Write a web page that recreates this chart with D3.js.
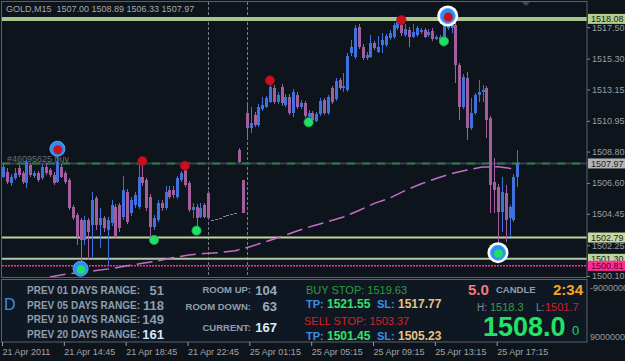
<!DOCTYPE html>
<html><head><meta charset="utf-8">
<script src="https://cdn.jsdelivr.net/npm/d3@7/dist/d3.min.js"></script>
<style>html,body{margin:0;padding:0;background:#0d141c;overflow:hidden}svg{display:block;font-family:"Liberation Sans",Arial,sans-serif}</style>
</head><body><svg id="c" width="625" height="361"></svg>
<script>
// ---------- DATA ----------
const chartTitle = "GOLD,M15";
const titleValues = ["1507.00", "1508.89", "1506.33", "1507.97"];
const open = [1507.04,1507.39,1506.58,1506.93,1507.63,1507.28,1506.58,1507.86,1507.09,1507.28,1506.93,1507.74,1507.51,1507.16,1506.69,1507.74,1507.28,1506.81,1504.95,1504.37,1504.02,1502.62,1504.02,1503.67,1505.53,1503.67,1504.13,1503.32,1503.79,1504.95,1505.06,1504.25,1505.99,1504.48,1505.06,1504.95,1507.04,1506.81,1505.64,1503.55,1504.02,1505.18,1504.83,1506.11,1506.11,1505.64,1506.81,1507.51,1506.58,1504.71,1504.95,1504.25,1505.06,1505.88,1504.02,1504.11,1504.19,1504.27,1504.37,1504.45,1504.54,1508.91,1506.81,1511.48,1510.43,1511.36,1510.66,1511.76,1511.94,1512.29,1513.23,1512.29,1513.34,1512.06,1512.64,1511.48,1512.76,1511.94,1512.18,1511.24,1511.48,1510.96,1511.43,1512.41,1511.48,1513.23,1512.46,1513.81,1513.23,1513.11,1515.67,1515.44,1517.53,1516.13,1515.32,1515.44,1516.37,1515.78,1516.25,1516.25,1516.72,1516.83,1517.42,1517.88,1516.95,1517.30,1516.83,1516.95,1517.18,1517.30,1516.95,1517.25,1516.65,1516.60,1516.72,1517.42,1517.42,1517.65,1514.85,1511.94,1513.92,1510.43,1511.48,1512.76,1512.99,1513.23,1511.13,1506.69,1506.34,1504.60,1505.88,1504.13,1504.02,1507.00];
const high = [1508.00,1507.65,1507.23,1507.65,1507.86,1507.44,1508.21,1508.00,1507.44,1507.44,1507.93,1508.00,1507.65,1507.37,1508.91,1507.93,1507.44,1506.95,1505.06,1504.50,1504.16,1504.30,1504.16,1505.97,1505.69,1504.85,1504.30,1504.23,1505.41,1505.13,1505.20,1507.09,1506.18,1505.62,1505.97,1508.07,1508.14,1506.95,1505.83,1504.37,1505.41,1505.41,1506.39,1506.39,1506.39,1507.09,1507.44,1507.79,1506.74,1505.20,1505.13,1505.20,1505.20,1506.04,1504.02,1504.11,1504.19,1504.27,1504.37,1504.45,1504.54,1509.05,1506.81,1512.06,1511.92,1511.57,1512.13,1512.62,1512.69,1513.81,1513.46,1512.97,1513.53,1512.83,1512.83,1513.18,1512.97,1512.41,1512.34,1511.71,1511.64,1511.57,1512.55,1512.55,1512.76,1513.39,1513.95,1513.95,1514.30,1515.69,1516.60,1517.65,1517.72,1516.32,1515.76,1516.95,1516.53,1516.88,1517.09,1517.02,1517.30,1517.79,1518.23,1518.00,1517.72,1517.51,1517.72,1517.58,1517.44,1517.44,1517.37,1517.44,1516.95,1516.95,1517.88,1518.28,1517.79,1517.79,1514.99,1514.23,1514.39,1512.55,1512.90,1513.81,1513.46,1513.39,1511.29,1508.35,1506.53,1507.04,1506.46,1505.06,1507.23,1508.89];
const low = [1506.95,1506.53,1506.39,1506.81,1507.02,1506.53,1506.25,1507.02,1506.95,1506.67,1506.81,1507.16,1507.02,1506.46,1506.60,1506.95,1506.53,1504.71,1504.02,1502.27,1501.01,1502.27,1501.22,1501.43,1503.32,1502.06,1503.18,1500.87,1503.60,1502.69,1503.18,1504.02,1503.74,1504.30,1504.85,1504.78,1506.39,1504.64,1502.76,1503.32,1503.88,1504.64,1504.71,1505.48,1505.55,1505.48,1506.67,1506.32,1504.58,1504.16,1503.46,1504.16,1504.16,1504.02,1504.02,1504.11,1504.19,1504.27,1504.37,1504.45,1504.54,1508.00,1504.48,1509.82,1510.10,1510.52,1510.52,1511.64,1511.85,1512.20,1512.13,1512.13,1511.99,1511.92,1511.36,1511.22,1511.78,1511.78,1511.15,1510.89,1510.87,1510.87,1511.29,1511.36,1511.36,1512.13,1512.34,1513.11,1512.97,1512.97,1515.48,1515.27,1515.97,1515.20,1515.20,1515.34,1515.90,1515.69,1515.69,1516.11,1516.60,1516.67,1517.30,1516.88,1516.81,1516.13,1516.74,1516.81,1517.02,1516.74,1516.81,1516.53,1516.60,1516.53,1516.60,1517.30,1517.09,1513.60,1511.01,1511.78,1509.61,1510.31,1511.36,1512.29,1512.29,1509.75,1504.50,1504.50,1501.71,1503.20,1502.50,1502.85,1503.88,1506.33];
const close = [1507.74,1506.69,1507.04,1507.28,1507.16,1506.69,1508.09,1507.16,1507.32,1506.81,1507.74,1507.28,1507.16,1506.58,1508.09,1507.04,1506.69,1504.83,1504.13,1502.85,1502.62,1504.02,1503.20,1505.41,1503.67,1504.13,1503.44,1504.02,1505.06,1502.85,1503.44,1506.11,1503.90,1505.41,1505.76,1507.04,1506.58,1504.83,1503.55,1504.13,1505.18,1504.83,1505.99,1505.64,1505.76,1506.93,1507.28,1506.46,1504.71,1504.95,1504.13,1504.83,1504.25,1504.13,1504.02,1504.11,1504.19,1504.27,1504.37,1504.45,1504.54,1508.07,1504.48,1510.43,1510.78,1510.66,1511.94,1512.06,1512.53,1513.34,1512.29,1512.76,1512.18,1512.64,1511.48,1512.99,1511.94,1512.18,1511.29,1511.48,1511.01,1511.43,1512.36,1511.48,1512.60,1512.29,1513.76,1513.23,1513.39,1515.48,1516.13,1517.42,1516.13,1515.32,1515.55,1516.37,1516.02,1516.13,1516.60,1516.88,1517.07,1517.65,1517.88,1517.07,1517.35,1516.83,1517.18,1517.42,1517.30,1516.83,1517.18,1516.65,1516.79,1516.83,1517.65,1517.77,1517.65,1514.85,1511.94,1514.04,1510.43,1511.48,1512.76,1512.99,1513.11,1511.01,1506.46,1506.11,1504.60,1505.99,1504.02,1504.95,1507.04,1507.97];

const maBars   = [12,16,20,24,28,32,36,40,44,48,52,56,60,64,68,72,76,80,84,88,92,96,100,104,108,112,116,120,124,128,131,133];
const maValues = [1500.03,1500.22,1500.34,1500.48,1500.62,1500.81,1500.99,1501.15,1501.39,1501.57,1501.68,1501.74,1501.87,1502.16,1502.51,1502.86,1503.25,1503.60,1503.90,1504.23,1504.68,1505.18,1505.55,1506.08,1506.53,1506.92,1507.27,1507.51,1507.72,1507.74,1507.63,1507.51];

const priceTicks = [1517.50,1515.30,1513.15,1510.95,1508.80,1506.60,1504.45,1502.25,1500.10];
const levelPrices = [1518.08, 1507.97, 1502.79, 1501.30, 1500.81];
const orderLabel = "#46095625 buy";
const orderPrice = 1507.97;
const separatorBars = [53, 63];

const timeTickBars = [0,16,32,48,64,80,96,112,128];
const timeLabels = ["21 Apr 2011","21 Apr 14:45","21 Apr 18:45","21 Apr 22:45","25 Apr 01:15","25 Apr 05:15","25 Apr 09:15","25 Apr 13:15","25 Apr 17:15"];

const redDotBars = [36, 47, 69, 103];
const redDotPrices = [1508.14, 1507.81, 1513.78, 1518.00];
const greenDotBars = [39, 50, 79, 114];
const greenDotPrices = [1502.62, 1503.27, 1510.85, 1516.51];
const ringBars = [14, 20, 115, 128];
const ringPrices = [1509.00, 1500.61, 1518.28, 1501.73];
const ringKinds = ["high", "low", "high", "low"];
const ringWhite = [false, false, true, true];

const subAxisLabels = ["-9000000", "9000000"];

const rangeLabels = ["PREV 01 DAYS RANGE:","PREV 05 DAYS RANGE:","PREV 10 DAYS RANGE:","PREV 20 DAYS RANGE:"];
const rangeValues = [51, 118, 149, 161];
const roomLabels = ["ROOM UP:","ROOM DOWN:","CURRENT:"];
const roomValues = [104, 63, 167];
const buyStop = "1519.63", buyTP = "1521.55", buySL = "1517.77";
const sellStop = "1503.37", sellTP = "1501.45", sellSL = "1505.23";
const spreadText = "5.0", candleLabel = "CANDLE", candleTimer = "2:34";
const dayHigh = "1518.3", dayLow = "1501.7";
const bigPrice = "1508.0", bigSuffix = "0";
const periodLetter = "D";

// ---------- DRAW ----------
const svg = d3.select("#c");
const BG = "#0d141c";
svg.append("rect").attr("width",625).attr("height",361).attr("fill",BG);

const x = d3.scaleLinear().domain([0, 133]).range([3.3, 517.3]);
const y = d3.scaleLinear().domain([1500.10, 1517.50]).range([276, 27.2]);

const defs = svg.append("defs");
defs.append("clipPath").attr("id","clipMain").append("rect").attr("x",2).attr("y",2).attr("width",585).attr("height",275);

const main = svg.append("g").attr("clip-path","url(#clipMain)");

// vertical period separators
main.selectAll(".sep").data(separatorBars).join("line")
  .attr("x1", d=>Math.round(x(d))+0.5).attr("x2", d=>Math.round(x(d))+0.5)
  .attr("y1", 2).attr("y2", 277)
  .attr("stroke","#7c7c86").attr("stroke-width",1).attr("stroke-dasharray","3,2");

// horizontal levels
const levelStyles = [
  {c:"#a9c58a", w:4, dash:null},
  {c:"#33414e", w:2, dash:null},
  {c:"#c4d29c", w:2, dash:null},
  {c:"#b4c6a6", w:2, dash:null},
  {c:"#ff2a8c", w:1.5, dash:"2,1"}
];
main.selectAll(".lvl").data(levelPrices).join("line")
  .attr("x1",2).attr("x2",587)
  .attr("y1", d=>y(d)).attr("y2", d=>y(d))
  .attr("stroke",(d,i)=>levelStyles[i].c)
  .attr("stroke-width",(d,i)=>levelStyles[i].w)
  .attr("stroke-dasharray",(d,i)=>levelStyles[i].dash);
main.append("line").attr("x1",2).attr("x2",587).attr("y1",y(orderPrice)).attr("y2",y(orderPrice))
  .attr("stroke","#2d7a45").attr("stroke-width",2).attr("stroke-dasharray","8,7");

// order label
main.append("text").attr("x",7).attr("y",y(orderPrice)-1.5).text(orderLabel)
  .attr("font-size",9).attr("fill","#68707a");

// moving average
const maData = maBars.map((b,i)=>({b, v:maValues[i]}));
main.append("path").datum(maData)
  .attr("d", d3.line().x(d=>x(d.b)).y(d=>y(d.v)))
  .attr("fill","none").attr("stroke","#c46cc8").attr("stroke-width",1.5)
  .attr("stroke-dasharray","16,6");

// candles
const bars = d3.range(open.length);
const BULL = "#3f72dc", BEAR = "#a45e9e", DOJI = "#8a80a8";
const col = i => close[i] > open[i] ? BULL : (close[i] < open[i] ? BEAR : DOJI);
main.selectAll(".wick").data(bars).join("rect")
  .attr("x", i=>Math.round(x(i)))
  .attr("width",1)
  .attr("y", i=>Math.round(y(high[i])))
  .attr("height", i=>Math.max(1, Math.round(y(low[i]))-Math.round(y(high[i]))))
  .attr("fill", col);
main.selectAll(".body").data(bars).join("rect")
  .attr("x", i=>Math.round(x(i))-1)
  .attr("width",3)
  .attr("y", i=>Math.round(y(Math.max(open[i],close[i]))))
  .attr("height", i=>Math.max(1, Math.round(y(Math.min(open[i],close[i])))-Math.round(y(Math.max(open[i],close[i])))))
  .attr("fill", col);

// rings
ringBars.forEach((b,i)=>{
  const cx = x(b), cy = y(ringPrices[i]);
  if (ringWhite[i]) main.append("circle").attr("cx",cx).attr("cy",cy).attr("r",10.5).attr("fill","#ffffff");
  main.append("circle").attr("cx",cx).attr("cy",cy).attr("r",7.5).attr("fill","#2f8cf2").attr("stroke","#54a6ff").attr("stroke-width",1);
  main.append("circle").attr("cx",cx+0.5).attr("cy",cy+1).attr("r",4.5).attr("fill", ringKinds[i]==="high" ? "#c8101e" : "#22dd66");
});
// fractal dots
main.selectAll(".rd").data(redDotBars).join("circle")
  .attr("cx", d=>x(d)).attr("cy",(d,i)=>y(redDotPrices[i])).attr("r",4.6)
  .attr("fill","#c8101e").attr("stroke","#9a0c18").attr("stroke-width",0.8);
main.selectAll(".gd").data(greenDotBars).join("circle")
  .attr("cx", d=>x(d)).attr("cy",(d,i)=>y(greenDotPrices[i])).attr("r",4.6)
  .attr("fill","#22dd66").attr("stroke","#14b050").attr("stroke-width",0.8);

// chart shift marker
svg.append("path").attr("d","M521,1 L531,1 L526,6 Z").attr("fill","#3c4a58");

// title
svg.append("text").attr("x",6).attr("y",12).attr("font-size",9).attr("fill","#a8a8a8")
  .style("white-space","pre").text(chartTitle + "  " + titleValues.join(" "));

// frames
svg.append("rect").attr("x",1.5).attr("y",1.5).attr("width",585.5).attr("height",276)
  .attr("fill","none").attr("stroke","#5c6168");

// price axis
const yAxis = d3.axisRight(y).tickValues(priceTicks).tickSize(3).tickPadding(2).tickFormat(d3.format(".2f"));
const ya = svg.append("g").attr("transform","translate(587,0)").call(yAxis);
ya.select(".domain").remove();
ya.selectAll("line").attr("stroke","#8a8a8a");
ya.selectAll("text").attr("font-size",9).attr("fill","#9c9c9c").attr("font-family","Liberation Sans, Arial, sans-serif");

// level labels
const levelBoxes = ["#b2cf8e","#b4b4b4","#c8d8a0","#bcd6a2","#ff2d95"];
const lvlG = svg.append("g");
levelPrices.forEach((p,i)=>{
  const cy = y(p);
  lvlG.append("rect").attr("x",588).attr("y",cy-5).attr("width",37).attr("height",10).attr("fill",levelBoxes[i]);
  lvlG.append("text").attr("x",591).attr("y",cy).attr("dy","0.34em").attr("font-size",9)
    .attr("fill", i===4 ? "#5a0022" : "#1c2418").text(d3.format(".2f")(p));
});

// sub window
svg.append("rect").attr("x",1.5).attr("y",279.5).attr("width",585.5).attr("height",62.5)
  .attr("fill","#0f1822").attr("stroke","#5c6168");
svg.append("text").attr("x",590).attr("y",288).attr("dy","0.34em").attr("font-size",9).attr("fill","#9c9c9c").text(subAxisLabels[0]);
svg.append("text").attr("x",590).attr("y",337).attr("dy","0.34em").attr("font-size",9).attr("fill","#9c9c9c").text(subAxisLabels[1]);

const P = svg.append("g");
function t(xp, cyp, txt, size, fill, weight, anchor){
  return P.append("text").attr("x",xp).attr("y",cyp).attr("dy","0.36em")
    .attr("font-size",size).attr("fill",fill).attr("font-weight",weight||"normal")
    .attr("text-anchor",anchor||"start").text(txt);
}
t(4, 304, periodLetter, 16, "#3c8fe6");
const rowY = [290, 305, 319.3, 334.3];
rangeLabels.forEach((s,i)=>t(27, rowY[i], s, 10, "#8e9eae", "bold"));
rangeValues.forEach((v,i)=>t(164, rowY[i], v, 13, i===3 ? "#d2e8ff" : "#8c9db0", "bold", "end"));
const roomY = [290, 306.7, 327.3];
roomLabels.forEach((s,i)=>t(251, roomY[i], s, 9.5, "#8e9eae", "bold", "end"));
roomValues.forEach((v,i)=>t(277, roomY[i], v, 13, i===2 ? "#d8ecff" : "#9aaabb", "bold", "end"));

t(306, 290, "BUY STOP: " + buyStop, 11, "#2c9c3c");
t(306, 304, "TP:", 11, "#3a8ee8", "bold");
t(327, 304, buyTP, 12, "#32e468", "bold");
t(377, 304, "SL:", 11, "#3a8ee8", "bold");
t(398, 304, buySL, 12, "#e8c283", "bold");
t(304, 320.7, "SELL STOP: " + sellStop, 11, "#d2222c");
t(306, 335.7, "TP:", 11, "#3a8ee8", "bold");
t(327, 335.7, sellTP, 12, "#32e468", "bold");
t(377, 335.7, "SL:", 11, "#3a8ee8", "bold");
t(398, 335.7, sellSL, 12, "#e8c283", "bold");

t(468, 290, spreadText, 15, "#f27a7a", "bold");
t(496, 290, candleLabel, 9.5, "#8e9eae", "bold");
t(553, 290, candleTimer, 15, "#f5a524", "bold");
t(477, 307, "H:", 10, "#7d8d9d");
t(490, 307, dayHigh, 11, "#3c9c4a");
t(536, 307, "L:", 10, "#7d8d9d");
t(545, 307, dayLow, 11, "#cc2232");
t(483, 326.7, bigPrice, 27, "#22e264", "bold");
t(572, 330, bigSuffix, 13, "#22d060");

// time axis
const xAxis = d3.axisBottom(x).tickValues(timeTickBars).tickSize(4).tickPadding(3)
  .tickFormat((d,i)=>timeLabels[i]);
const xa = svg.append("g").attr("transform","translate(-1.3,342)").call(xAxis);
xa.select(".domain").remove();
xa.selectAll("line").attr("stroke","#9a9a9a");
xa.selectAll("text").attr("text-anchor","start").attr("font-size",9).attr("fill","#a4a4a4")
  .attr("font-family","Liberation Sans, Arial, sans-serif");
</script></body></html>
